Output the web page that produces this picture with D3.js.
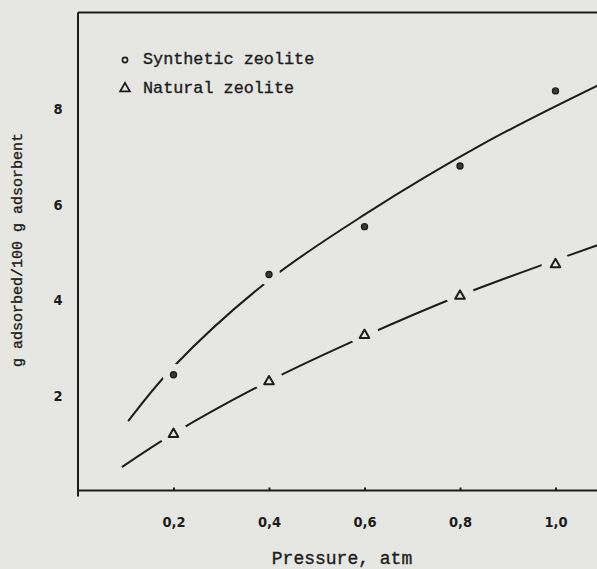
<!DOCTYPE html>
<html>
<head>
<meta charset="utf-8">
<script src="https://cdn.jsdelivr.net/npm/d3@7"></script>
<style>
	body { margin: 0; background: #e6e6e3; }
	svg { display: block; }
</style>
</head>
<body>
<svg></svg>
<script>
const width = 597;
const height = 569;
const ink = '#1c1c1c';
const paper = '#e6e6e3';

// measured points
const pressure = [0.2, 0.4, 0.6, 0.8, 1.0];
const synthetic = [2.42, 4.52, 5.52, 6.79, 8.36];
const natural = [1.20, 2.30, 3.27, 4.09, 4.75];

// hand drawn curves through the points
const synthFitX = [0.105, 0.2, 0.4, 0.6, 0.85, 1.09];
const synthFitY = [1.45, 2.59, 4.40, 5.77, 7.26, 8.48];
const naturalFitX = [0.092, 0.2, 0.4, 0.6, 0.8, 1.0, 1.09];
const naturalFitY = [0.49, 1.19, 2.29, 3.23, 4.08, 4.82, 5.14];

const xTicks = [0.2, 0.4, 0.6, 0.8, 1.0];
const yTicks = [2, 4, 6, 8];
const legendNames = ['Synthetic zeolite', 'Natural zeolite'];

// the drawn curve is broken only where it runs into a marker
const synthBreak = [true, true, false, false, false];
const synthGap = 11;
const naturalGap = 14;

var svg = d3.select('svg').attr('width', width).attr('height', height);

var x = d3.scaleLinear().domain([0, 1.2]).range([78, 651]);
var y = d3.scaleLinear().domain([0, 10]).range([490.5, 12.5]);

function zip(a, b){
	return a.map((d, i) => [d, b[i]]);
}

function trianglePath(cx, cy){
	return 'M' + cx + ',' + (cy - 4.6) + 'L' + (cx + 4.8) + ',' + (cy + 3.8) + 'L' + (cx - 4.8) + ',' + (cy + 3.8) + 'Z';
}

// typed text of the scan looks a little heavier than the font
function typed(sel, size){
	sel.style('font-family', '"Liberation Mono", monospace')
	.style('font-size', size + 'px')
	.style('fill', ink)
	.style('stroke', ink).style('stroke-width', 0.35);
}

var line = d3.line().x(d => x(d[0])).y(d => y(d[1])).curve(d3.curveCatmullRom);

svg.append('path')
.attr('d', line(zip(synthFitX, synthFitY)))
.style('fill', 'none').style('stroke', ink).style('stroke-width', 2);

svg.append('path')
.attr('d', line(zip(naturalFitX, naturalFitY)))
.style('fill', 'none').style('stroke', ink).style('stroke-width', 2);

// paper coloured halos break the curves round the markers
svg.selectAll('circle.halo-s')
.data(zip(pressure, synthetic).filter((d, i) => synthBreak[i]))
.enter().append('circle').classed('halo-s', true)
.attr('cx', d => x(d[0])).attr('cy', d => y(d[1])).attr('r', synthGap)
.style('fill', paper);
svg.selectAll('circle.halo-n')
.data(zip(pressure, natural))
.enter().append('circle').classed('halo-n', true)
.attr('cx', d => x(d[0])).attr('cy', d => y(d[1])).attr('r', naturalGap)
.style('fill', paper);

// markers
svg.selectAll('circle.synth')
.data(zip(pressure, synthetic))
.enter().append('circle').classed('synth', true)
.attr('cx', d => x(d[0])).attr('cy', d => y(d[1])).attr('r', 3)
.style('fill', '#3a3a3a').style('stroke', ink).style('stroke-width', 1.4);

svg.selectAll('path.natural')
.data(zip(pressure, natural))
.enter().append('path').classed('natural', true)
.attr('d', d => trianglePath(x(d[0]), y(d[1])))
.style('fill', 'none').style('stroke', ink).style('stroke-width', 2)
.style('stroke-linejoin', 'round');

// frame
svg.append('line')
.attr('x1', x(0)).attr('y1', y(10)).attr('x2', x(0)).attr('y2', y(0) + 6)
.style('stroke', ink).style('stroke-width', 2);
svg.append('line')
.attr('x1', x(0)).attr('y1', y(10)).attr('x2', width).attr('y2', y(10))
.style('stroke', ink).style('stroke-width', 2);

// x axis
var xAxis = svg.append('g')
.attr('transform', 'translate(0,' + y(0) + ')')
.call(d3.axisBottom(x).tickValues(xTicks).tickSize(-3).tickPadding(0)
	.tickFormat(d => d3.format('.1f')(d).replace('.', ',')));
xAxis.select('.domain').attr('d', 'M' + x(0) + ',0H' + width)
.style('stroke', ink).style('stroke-width', 2);
xAxis.selectAll('.tick line').style('stroke', ink).style('stroke-width', 2);
xAxis.selectAll('text')
.attr('y', 26).attr('dy', '0.71em')
.style('font-family', '"DejaVu Sans Condensed", "DejaVu Sans", sans-serif')
.style('font-stretch', 'condensed')
.style('font-weight', 'bold')
.style('font-size', '14.5px')
.style('fill', ink);

// y axis
var yAxis = svg.append('g')
.attr('transform', 'translate(' + x(0) + ',0)')
.call(d3.axisLeft(y).tickValues(yTicks).tickSize(0).tickFormat(d3.format('d')));
yAxis.select('.domain').remove();
yAxis.selectAll('text')
.attr('x', -20).attr('dy', '0.38em')
.attr('text-anchor', 'middle')
.style('font-family', '"DejaVu Sans Condensed", "DejaVu Sans", sans-serif')
.style('font-stretch', 'condensed')
.style('font-weight', 'bold')
.style('font-size', '14.5px')
.style('fill', ink);

// axis titles
svg.append('text')
.attr('x', 342).attr('y', 564)
.attr('text-anchor', 'middle')
.call(typed, 18)
.text('Pressure, atm');

svg.append('text')
.attr('transform', 'translate(22,250) rotate(-90)')
.attr('text-anchor', 'middle')
.call(typed, 15)
.text('g adsorbed/100 g adsorbent');

// legend
var legend = svg.append('g');
legend.append('circle')
.attr('cx', 125).attr('cy', 60).attr('r', 2.6)
.style('fill', 'none').style('stroke', ink).style('stroke-width', 1.6);
legend.append('path')
.attr('d', trianglePath(125, 87.5))
.style('fill', 'none').style('stroke', ink).style('stroke-width', 1.8);
legend.selectAll('text')
.data(legendNames)
.enter().append('text')
.attr('x', 143).attr('y', (d, i) => 64 + i*29)
.call(typed, 16.8)
.text(d => d);
</script>
</body>
</html>
